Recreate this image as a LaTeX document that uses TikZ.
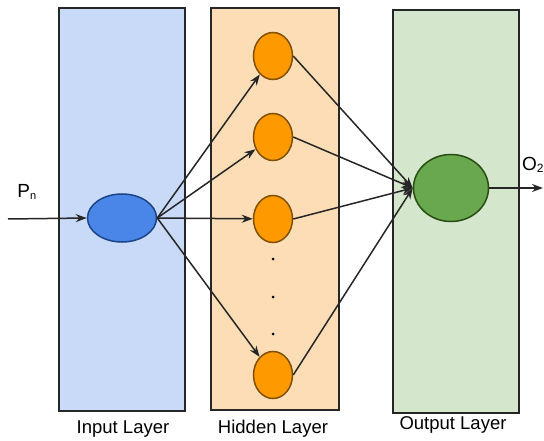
\documentclass[tikz,border=0pt]{standalone}
\usepackage{fontspec}
\setmainfont{Liberation Sans}
\usetikzlibrary{shapes.geometric,arrows.meta}
\definecolor{inFill}{HTML}{C9DAF8}
\definecolor{hidFill}{HTML}{FCDDB5}
\definecolor{outFill}{HTML}{D4E6CC}
\definecolor{inNode}{HTML}{4A86E8}
\definecolor{inEdge}{HTML}{1C4587}
\definecolor{hidNode}{HTML}{FF9900}
\definecolor{hidEdge}{HTML}{7F5000}
\definecolor{outNode}{HTML}{6AA84F}
\definecolor{outEdge}{HTML}{274E13}
\definecolor{lineCol}{HTML}{262626}
\begin{document}
\begin{tikzpicture}[x=1pt,y=-1pt,
  panel/.style={draw=lineCol,line width=1.8pt},
  neuron/.style={ellipse,line width=1.5pt,inner sep=0pt},
  link/.style={draw=lineCol,line width=1.5pt,-{Stealth[length=11pt,width=8pt]}},
  caption/.style={font=\fontsize{18.5}{20}\selectfont,text=black},
  dotmark/.style={circle,fill=black,inner sep=0pt,minimum size=3pt}]
\useasboundingbox (0,0) rectangle (544,441);
% layer panels
\node[panel,fill=inFill,minimum width=126pt,minimum height=403pt,inner sep=0pt] (inpanel) at (122,209.5) {};
\node[panel,fill=hidFill,minimum width=128pt,minimum height=402pt,inner sep=0pt] (hidpanel) at (275,209) {};
\node[panel,fill=outFill,minimum width=126pt,minimum height=403pt,inner sep=0pt] (outpanel) at (456,211.5) {};
% layer captions
\node[caption] (incap) at (123,429) {Input Layer};
\node[caption] (hidcap) at (273,429) {Hidden Layer};
\node[caption] (outcap) at (453,425) {Output Layer};
% neurons
\node[neuron,draw=inEdge,fill=inNode,minimum width=69pt,minimum height=48pt] (in) at (122,218) {};
\node[neuron,draw=hidEdge,fill=hidNode,minimum width=39pt,minimum height=47pt] (h1) at (273,56) {};
\node[neuron,draw=hidEdge,fill=hidNode,minimum width=39pt,minimum height=47pt] (h2) at (273,137) {};
\node[neuron,draw=hidEdge,fill=hidNode,minimum width=39pt,minimum height=47pt] (h3) at (273,219) {};
\node[neuron,draw=hidEdge,fill=hidNode,minimum width=39pt,minimum height=47pt] (h4) at (273,375) {};
\node[neuron,draw=outEdge,fill=outNode,minimum width=75pt,minimum height=67pt] (out) at (451,188) {};
% vertical ellipsis between hidden neurons
\node[dotmark] (d1) at (273,259) {};
\node[dotmark] (d2) at (273,297) {};
\node[dotmark] (d3) at (273,334) {};
% input and output terminals
\coordinate (src) at (8,219);
\coordinate (dst) at (543,188);
\node[font=\fontsize{19}{21}\selectfont] (plab) at (27,192) {P\textsubscript{\fontsize{11}{12}\selectfont n}};
\node[font=\fontsize{19}{21}\selectfont] (olab) at (533,165) {O\textsubscript{\fontsize{12}{13}\selectfont 2}};
% connections
\draw[link] (src) -- (in.west);
\foreach \h in {h1,h2,h3,h4}{
  \draw[link] (in.east) -- (\h);
  \draw[link] (\h.east) -- (out.west);
}
\draw[link] (out.east) -- (dst);
\end{tikzpicture}
\end{document}
